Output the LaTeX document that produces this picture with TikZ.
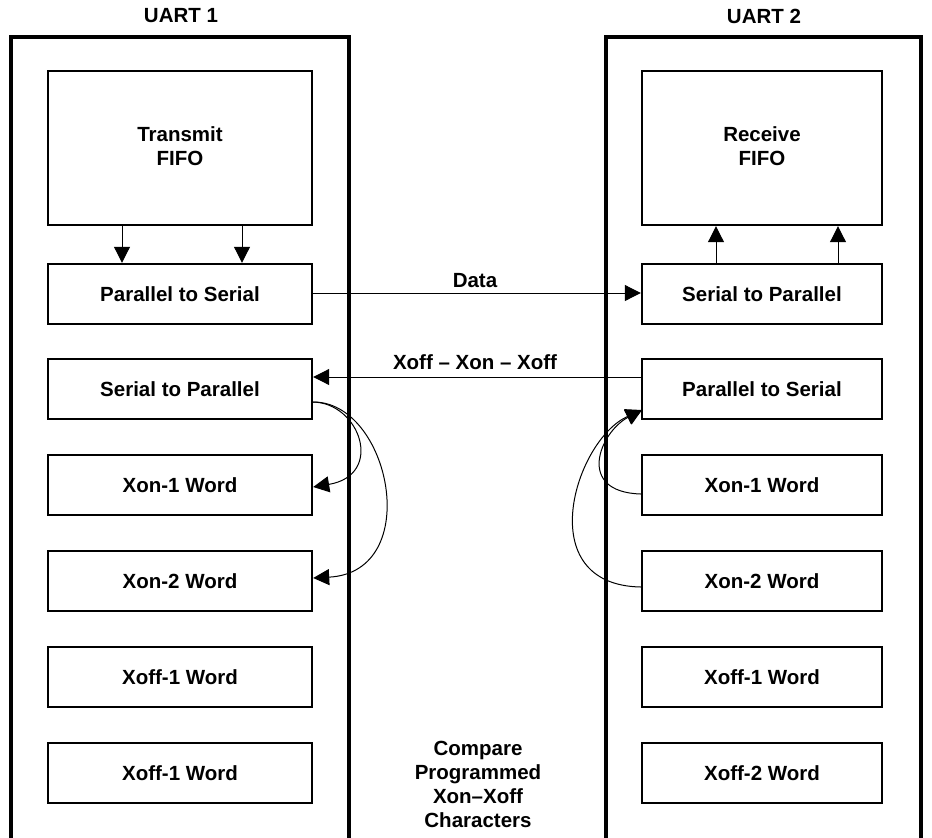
\documentclass[tikz,border=0pt]{standalone}
\usepackage{fontspec}
\setmainfont{Liberation Sans}
\usetikzlibrary{arrows.meta}
\begin{document}
\begin{tikzpicture}[x=1pt,y=-1pt,
  outer/.style={line width=3.2pt},
  inbox/.style={draw,line width=2.4pt,inner sep=0pt},
  lbl/.style={font=\fontsize{20.5}{24}\selectfont\bfseries,align=center,inner sep=0pt},
  arr/.style={line width=1pt,-{Triangle[length=16pt,width=16pt]}},
  conn/.style={line width=1pt}]
\useasboundingbox (0,0) rectangle (932,838);
% outer UART frames
\draw[outer] (11,845) -- (11,37) -- (349,37) -- (349,845);
\draw[outer] (606,845) -- (606,37) -- (921,37) -- (921,845);
\node[lbl] (u1) at (181,16) {UART 1};
\node[lbl] (u2) at (764,16) {UART 2};
% UART1 boxes
\node[inbox,minimum width=264pt,minimum height=154pt] (tf) at (180,148) {};
\node[lbl] at (180,146) {Transmit\\FIFO};
\node[inbox,minimum width=264pt,minimum height=60pt,lbl] (ps1) at (180,294) {Parallel to Serial};
\node[inbox,minimum width=264pt,minimum height=60pt,lbl] (sp1) at (180,389) {Serial to Parallel};
\node[inbox,minimum width=264pt,minimum height=60pt,lbl] (xa1) at (180,485) {Xon-1 Word};
\node[inbox,minimum width=264pt,minimum height=60pt,lbl] (xb1) at (180,581) {Xon-2 Word};
\node[inbox,minimum width=264pt,minimum height=60pt,lbl] (xc1) at (180,677) {Xoff-1 Word};
\node[inbox,minimum width=264pt,minimum height=60pt,lbl] (xd1) at (180,773) {Xoff-1 Word};
% UART2 boxes
\node[inbox,minimum width=240pt,minimum height=154pt] (rf) at (762,148) {};
\node[lbl] at (762,146) {Receive\\FIFO};
\node[inbox,minimum width=240pt,minimum height=60pt,lbl] (sp2) at (762,294) {Serial to Parallel};
\node[inbox,minimum width=240pt,minimum height=60pt,lbl] (ps2) at (762,389) {Parallel to Serial};
\node[inbox,minimum width=240pt,minimum height=60pt,lbl] (xa2) at (762,485) {Xon-1 Word};
\node[inbox,minimum width=240pt,minimum height=60pt,lbl] (xb2) at (762,581) {Xon-2 Word};
\node[inbox,minimum width=240pt,minimum height=60pt,lbl] (xc2) at (762,677) {Xoff-1 Word};
\node[inbox,minimum width=240pt,minimum height=60pt,lbl] (xd2) at (762,773) {Xoff-2 Word};
% FIFO arrows
\draw[arr] (tf.south -| 122,0) -- (ps1.north -| 122,0);
\draw[arr] (tf.south -| 242,0) -- (ps1.north -| 242,0);
\draw[arr] (sp2.north -| 716,0) -- (rf.south -| 716,0);
\draw[arr] (sp2.north -| 838,0) -- (rf.south -| 838,0);
% data links
\draw[arr] (ps1.east |- 0,293) -- (sp2.west |- 0,293);
\node[lbl] (dl) at (475,281) {Data};
\draw[arr] (ps2.west |- 0,377) -- (sp1.east |- 0,377);
\node[lbl] (xl) at (475,362) {Xoff -- Xon -- Xoff};
% compare curves UART1
\coordinate (c1) at (312,402);
\draw[arr] (c1) .. controls (360,402) and (385,475) .. (xa1.east |- 0,487);
\draw[arr] (c1) .. controls (390,400) and (425,572) .. (xb1.east |- 0,578);
% compare curves UART2
\coordinate (c2) at (642,410);
\draw[arr] (xa2.west |- 0,494) .. controls (575,492) and (600,432) .. (c2);
\draw[arr] (xb2.west |- 0,587) .. controls (530,585) and (575,440) .. (c2);
% compare text
\node[lbl] (cmp) at (478,784) {Compare\\Programmed\\Xon--Xoff\\Characters};
\end{tikzpicture}
\end{document}
